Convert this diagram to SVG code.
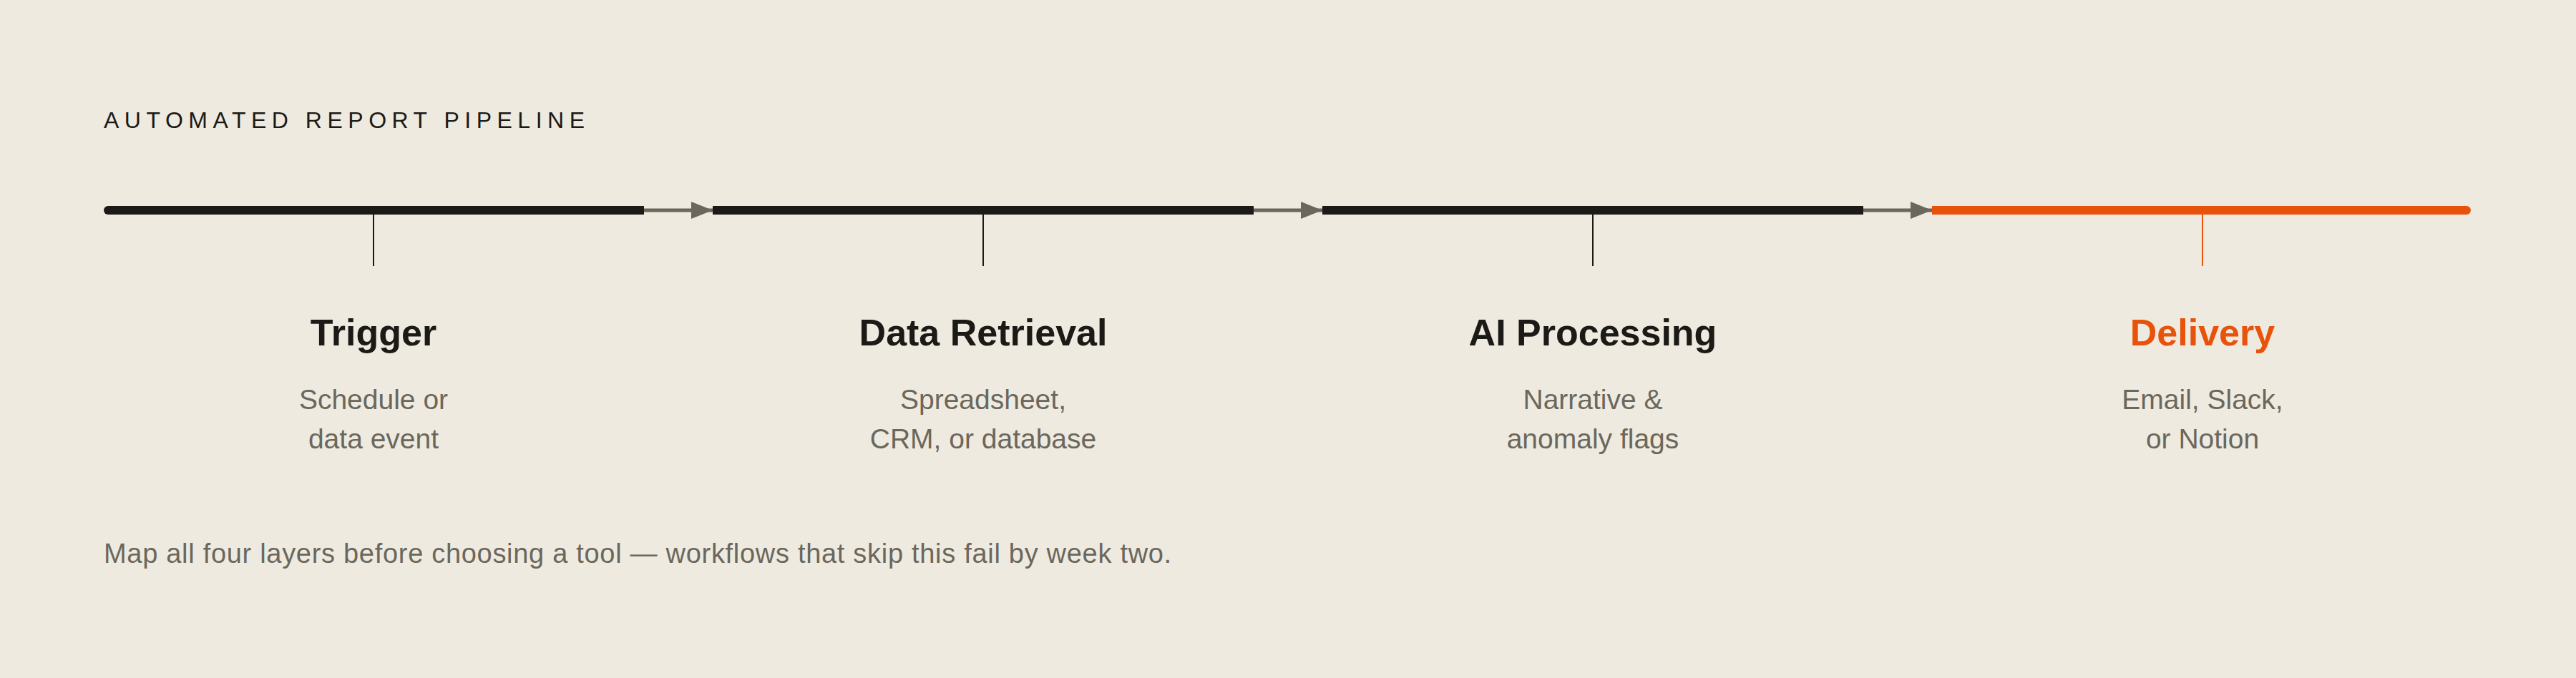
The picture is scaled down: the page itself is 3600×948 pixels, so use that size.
<svg xmlns="http://www.w3.org/2000/svg" width="3600" height="948" viewBox="0 0 3600 948">
<defs>
<style>
.title{font-family:"Liberation Sans",Arial,sans-serif;font-size:32px;letter-spacing:7.5px;fill:#1c1a16}
.seg{stroke:#1c1a16;stroke-width:12;fill:none}
.seg.hot{stroke:#e8530c}
.tick{stroke:#1c1a16;stroke-width:2}
.tick.hot{stroke:#e8530c}
.conn{stroke:#6b675c;stroke-width:5;fill:none}
.head{font-family:"Liberation Sans",Arial,sans-serif;font-size:52px;font-weight:bold;fill:#1c1a16;text-anchor:middle}
.head.hot{fill:#e8530c}
.sub{font-family:"Liberation Sans",Arial,sans-serif;font-size:39px;fill:#6b675c;text-anchor:middle}
.note{font-family:"Liberation Sans",Arial,sans-serif;font-size:38px;letter-spacing:0.7px;fill:#6b675c}
</style>
<marker id="arr" markerUnits="userSpaceOnUse" markerWidth="30" markerHeight="24" refX="30" refY="12" orient="auto">
<path d="M0,0 L30,12 L0,24 Z" fill="#6b675c"/>
</marker>
</defs>
<rect width="3600" height="948" fill="#eeeae0"/>
<text class="title" x="145" y="179">AUTOMATED REPORT PIPELINE</text>
<g id="connectors">
<line class="conn" x1="900" y1="294" x2="996" y2="294" marker-end="url(#arr)"/>
<line class="conn" x1="1752" y1="294" x2="1848" y2="294" marker-end="url(#arr)"/>
<line class="conn" x1="2604" y1="294" x2="2700" y2="294" marker-end="url(#arr)"/>
</g>
<g id="trigger">
<path class="seg" d="M151,294 H900"/>
<line class="seg" x1="151" y1="294" x2="160" y2="294" stroke-linecap="round"/>
<line class="tick" x1="522" y1="300" x2="522" y2="372"/>
<text class="head" x="522" y="483">Trigger</text>
<text class="sub" x="522" y="572">Schedule or</text>
<text class="sub" x="522" y="627">data event</text>
</g>
<g id="data-retrieval">
<path class="seg" d="M996,294 H1752"/>
<line class="tick" x1="1374" y1="300" x2="1374" y2="372"/>
<text class="head" x="1374" y="483">Data Retrieval</text>
<text class="sub" x="1374" y="572">Spreadsheet,</text>
<text class="sub" x="1374" y="627">CRM, or database</text>
</g>
<g id="ai-processing">
<path class="seg" d="M1848,294 H2604"/>
<line class="tick" x1="2226" y1="300" x2="2226" y2="372"/>
<text class="head" x="2226" y="483">AI Processing</text>
<text class="sub" x="2226" y="572">Narrative &amp;</text>
<text class="sub" x="2226" y="627">anomaly flags</text>
</g>
<g id="delivery">
<path class="seg hot" d="M2700,294 H3447"/>
<line class="seg hot" x1="3440" y1="294" x2="3447" y2="294" stroke-linecap="round"/>
<line class="tick hot" x1="3078" y1="300" x2="3078" y2="372"/>
<text class="head hot" x="3078" y="483">Delivery</text>
<text class="sub" x="3078" y="572">Email, Slack,</text>
<text class="sub" x="3078" y="627">or Notion</text>
</g>
<text class="note" x="145" y="787">Map all four layers before choosing a tool — workflows that skip this fail by week two.</text>
</svg>
